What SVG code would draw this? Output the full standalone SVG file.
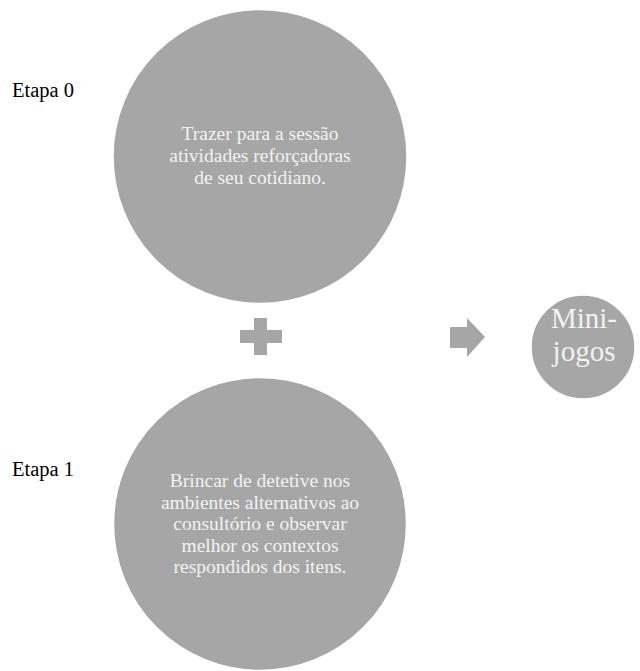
<svg xmlns="http://www.w3.org/2000/svg" width="640" height="671" viewBox="0 0 640 671">
<style>
.node{fill:#a6a6a6;stroke:#ffffff;stroke-width:1.5}
.ntext{font-family:"Liberation Serif","Times New Roman",serif;fill:#f2f2f2;text-anchor:middle}
.label{font-family:"Liberation Serif","Times New Roman",serif;fill:#000000;font-size:20.5px}
.sym{fill:#a6a6a6}
</style>
<rect width="640" height="671" fill="#ffffff"/>
<g id="etapa0"><text class="label" x="12" y="97">Etapa 0</text></g>
<g id="etapa1"><text class="label" x="12" y="476">Etapa 1</text></g>
<g id="node-top">
<circle class="node" cx="260" cy="156.5" r="147"/>
<text class="ntext" font-size="19.5"><tspan x="260" y="140">Trazer para a sessão</tspan><tspan x="260" y="162">atividades reforçadoras</tspan><tspan x="260" y="184">de seu cotidiano.</tspan></text>
</g>
<g id="node-bottom">
<circle class="node" cx="260" cy="524" r="146.5"/>
<text class="ntext" font-size="19.5"><tspan x="260" y="487">Brincar de detetive nos</tspan><tspan x="260" y="508.5">ambientes alternativos ao</tspan><tspan x="260" y="530">consultório e observar</tspan><tspan x="260" y="551.5">melhor os contextos</tspan><tspan x="260" y="573">respondidos dos itens.</tspan></text>
</g>
<g id="node-minijogos">
<circle class="node" cx="583" cy="347" r="52"/>
<text class="ntext" font-size="29"><tspan x="584" y="328">Mini-</tspan><tspan x="584" y="361">jogos</tspan></text>
</g>
<g id="connectors">
<path class="sym" d="M254,318 H267 V330 H282 V343 H267 V355 H254 V343 H240 V330 H254 Z"/>
<path class="sym" d="M450,327 H467 V318 L485,337 L467,357 V348 H450 Z"/>
</g>
</svg>
